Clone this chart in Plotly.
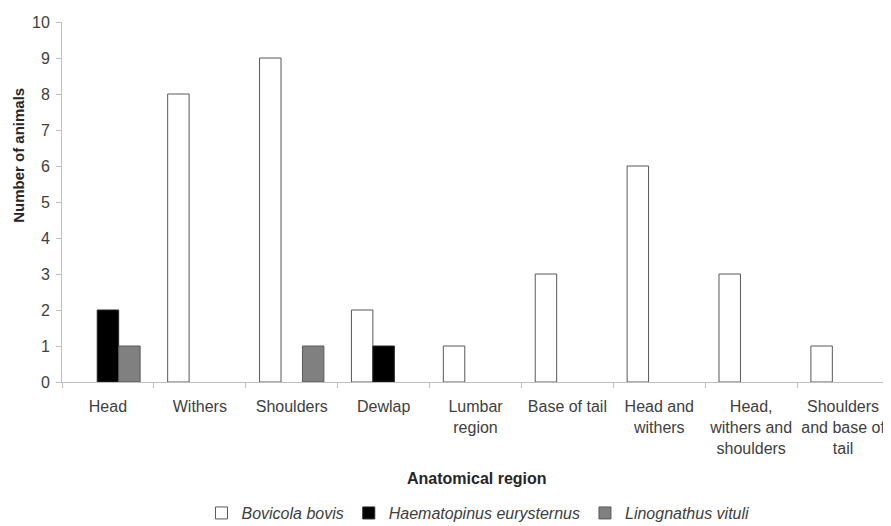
import plotly.graph_objects as go

categories = ["Head", "Withers", "Shoulders", "Dewlap", "Lumbar<br>region", "Base of tail",
              "Head and<br>withers", "Head,<br>withers and<br>shoulders", "Shoulders<br>and base of<br>tail"]
bovicola = [0, 8, 9, 2, 1, 3, 6, 3, 1]
haematopinus = [2, 0, 0, 1, 0, 0, 0, 0, 0]
linognathus = [1, 0, 1, 0, 0, 0, 0, 0, 0]
yticks = list(range(0, 11))
x_title = "Anatomical region"
y_title = "Number of animals"


def nz(vals):
    # zero counts draw no bar (no outline at the baseline)
    return [v if v else None for v in vals]


font_family = "Liberation Sans, Arial, sans-serif"

fig = go.Figure()
fig.add_trace(go.Bar(name="<i>Bovicola bovis</i>", x=categories, y=nz(bovicola),
                     marker=dict(color="white", line=dict(color="#595959", width=1))))
fig.add_trace(go.Bar(name="<i>Haematopinus eurysternus</i>", x=categories, y=nz(haematopinus),
                     marker=dict(color="black", line=dict(color="#262626", width=1))))
fig.add_trace(go.Bar(name="<i>Linognathus vituli</i>", x=categories, y=nz(linognathus),
                     marker=dict(color="#808080", line=dict(color="#595959", width=1))))

# page body has an 8px margin, so the figure is drawn 8px right and down
fig.update_layout(
    width=883, height=518,
    barmode="group", bargap=0.3, bargroupgap=0,
    plot_bgcolor="white", paper_bgcolor="white",
    margin=dict(l=54, r=2, t=14, b=144, autoexpand=False),
    font=dict(family=font_family, size=16, color="#404040"),
    showlegend=True,
    legend=dict(orientation="h", x=0.503, xanchor="center", yref="container", y=0.025, yanchor="middle",
                font=dict(size=16, color="#404040"), traceorder="normal", itemwidth=30),
    xaxis=dict(
        showline=True, linecolor="#bfbfbf", linewidth=1, automargin=False, tickangle=0,
        ticks="outside", tickson="boundaries", ticklen=5, tickcolor="#bfbfbf",
        ticklabelstandoff=10,
        tickfont=dict(size=16, color="#404040"),
        showgrid=False,
    ),
    yaxis=dict(
        range=[0, 10], tickvals=yticks, showline=True, linecolor="#bfbfbf", linewidth=1,
        automargin=False, ticklabelstandoff=3,
        ticks="outside", ticklen=5, tickcolor="#bfbfbf", showgrid=False, zeroline=False,
        tickfont=dict(size=16, color="#404040"),
    ),
    annotations=[
        dict(text="<b>" + x_title + "</b>", xref="paper", yref="paper", x=0.502, y=-0.267,
             xanchor="center", yanchor="middle", showarrow=False,
             font=dict(size=16, color="#262626")),
        dict(text="<b>" + y_title + "</b>", xref="paper", yref="paper", x=-0.052, y=0.631,
             xanchor="center", yanchor="middle", textangle=-90, showarrow=False,
             font=dict(size=15, color="#262626")),
    ],
)

fig.write_html("out.html")
